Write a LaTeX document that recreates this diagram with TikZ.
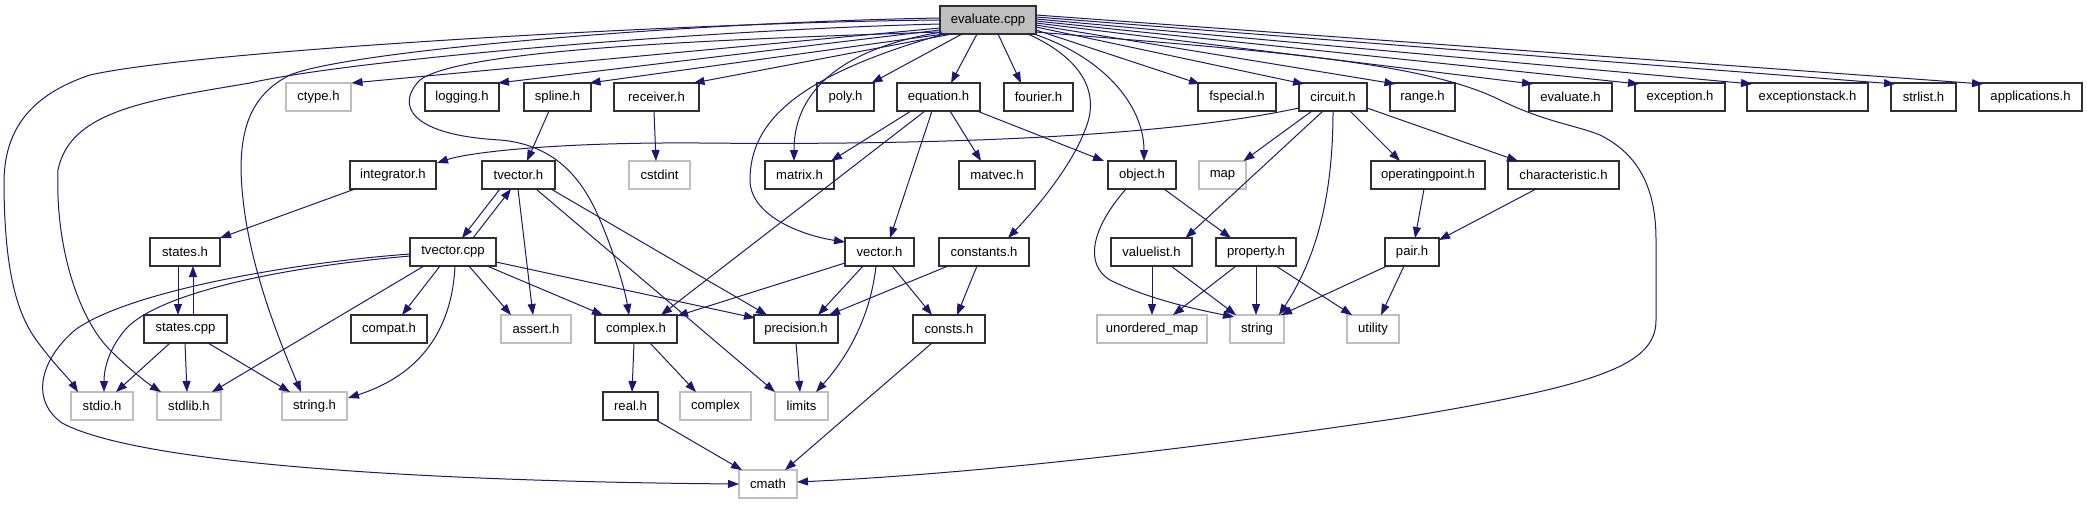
\documentclass[tikz,border=0pt]{standalone}
\usepackage{fontspec}
\setmainfont{Liberation Sans}
\usetikzlibrary{arrows.meta,calc}
\definecolor{dblue}{HTML}{191970}
\definecolor{lgray}{HTML}{BFBFBF}
\definecolor{bord}{HTML}{303030}
\tikzset{
  box/.style={draw=bord, line width=1.1pt, rectangle, minimum height=28pt, inner sep=0pt, font=\fontsize{13.1}{15}\selectfont, text=black},
  gbox/.style={box, draw=lgray},
  edge/.style={draw=dblue, line width=1pt, -{Triangle[length=11pt,width=8pt]}}
}
\begin{document}
\begin{tikzpicture}[x=1pt,y=-1pt]
\fill[white] (0,0) rectangle (2087,504);
\useasboundingbox (0,0) rectangle (2087,504);
% row 0
\node[box, fill=lgray, minimum width=96pt] (ev) at (988,20) {evaluate.cpp};
% row 1
\node[gbox, minimum width=65pt] (ct) at (318.5,97) {ctype.h};
\node[box, minimum width=74pt] (lg) at (462,97) {logging.h};
\node[box, minimum width=67pt] (sp) at (557.5,97) {spline.h};
\node[box, minimum width=85pt] (rc) at (656.5,97) {receiver.h};
\node[box, minimum width=57pt] (po) at (845.5,97) {poly.h};
\node[box, minimum width=83pt] (eq) at (938.5,97) {equation.h};
\node[box, minimum width=69pt] (fo) at (1038.5,97) {fourier.h};
\node[box, minimum width=78pt] (fs) at (1237,97) {fspecial.h};
\node[box, minimum width=68pt] (ci) at (1333,97) {circuit.h};
\node[box, minimum width=65pt] (ra) at (1422.5,97) {range.h};
\node[box, minimum width=83pt] (evh) at (1570.5,97) {evaluate.h};
\node[box, minimum width=90pt] (ex) at (1680,97) {exception.h};
\node[box, minimum width=121pt] (exs) at (1807.5,97) {exceptionstack.h};
\node[box, minimum width=65pt] (sl) at (1923.5,97) {strlist.h};
\node[box, minimum width=103pt] (ap) at (2030.5,97) {applications.h};
% row 2
\node[box, minimum width=86pt] (ig) at (393,175) {integrator.h};
\node[box, minimum width=73pt] (tvh) at (518.5,175) {tvector.h};
\node[gbox, minimum width=61pt] (csi) at (659.5,175) {cstdint};
\node[box, minimum width=69pt] (mx) at (799.5,175) {matrix.h};
\node[box, minimum width=76pt] (mv) at (997,175) {matvec.h};
\node[box, minimum width=68pt] (ob) at (1142,175) {object.h};
\node[gbox, minimum width=47pt] (mp) at (1222.5,175) {map};
\node[box, minimum width=114pt] (op) at (1428,175) {operatingpoint.h};
\node[box, minimum width=111pt] (ch) at (1563.5,175) {characteristic.h};
% row 3
\node[box, minimum width=70pt] (sh) at (185,252) {states.h};
\node[box, minimum width=86pt] (tvc) at (453,252) {tvector.cpp};
\node[box, minimum width=69pt] (ve) at (879.5,252) {vector.h};
\node[box, minimum width=90pt] (cn) at (984,252) {constants.h};
\node[box, minimum width=81pt] (vl) at (1151.5,252) {valuelist.h};
\node[box, minimum width=80pt] (pr) at (1256,252) {property.h};
\node[box, minimum width=54pt] (pa) at (1412,252) {pair.h};
% row 4
\node[box, minimum width=83pt] (sc) at (185.5,329) {states.cpp};
\node[box, minimum width=76pt] (cp) at (389,329) {compat.h};
\node[gbox, minimum width=70pt] (as) at (536,329) {assert.h};
\node[box, minimum width=82pt] (cx) at (636,329) {complex.h};
\node[box, minimum width=84pt] (pc) at (796,329) {precision.h};
\node[box, minimum width=72pt] (cs) at (949,329) {consts.h};
\node[gbox, minimum width=110pt] (um) at (1152,329) {unordered\_map};
\node[gbox, minimum width=54pt] (st) at (1257,329) {string};
\node[gbox, minimum width=52pt] (ut) at (1373,329) {utility};
% row 5
\node[gbox, minimum width=62pt] (sio) at (102,406) {stdio.h};
\node[gbox, minimum width=64pt] (slb) at (189,406) {stdlib.h};
\node[gbox, minimum width=65pt] (sth) at (314.5,406) {string.h};
\node[box, minimum width=55pt] (re) at (630.5,406) {real.h};
\node[gbox, minimum width=71pt] (cmp) at (715.5,406) {complex};
\node[gbox, minimum width=53pt] (li) at (801.5,406) {limits};
% row 6
\node[gbox, minimum width=58pt] (cm) at (768,484) {cmath};

% edges from evaluate.cpp
\draw[edge] ($(ev)+(-48,8)$) -- ($(ct)+(33,-14)$);
\draw[edge] ($(ev)+(-48,10)$) -- ($(lg)+(36,-14)$);
\draw[edge] ($(ev)+(-44,14)$) -- ($(sp)+(32,-14)$);
\draw[edge] ($(ev)+(-36,14)$) -- ($(rc)+(37,-14)$);
\draw[edge] ($(ev)+(-26,14)$) -- ($(po)+(26,-14)$);
\draw[edge] ($(ev)+(-11,14)$) -- ($(eq)+(12.5,-14)$);
\draw[edge] ($(ev)+(10,14)$) -- ($(fo)+(-17.5,-14)$);
\draw[edge] ($(ev)+(48,10)$) -- ($(fs)+(-37,-13)$);
\draw[edge] ($(ev)+(48,7)$) -- ($(ci)+(-29,-13)$);
\draw[edge] ($(ev)+(48,5)$) -- ($(ra)+(-27,-13)$);
\draw[edge] ($(ev)+(48,3)$) -- ($(evh)+(-37.5,-13)$);
\draw[edge] ($(ev)+(48,1)$) -- ($(ex)+(-41,-13)$);
\draw[edge] ($(ev)+(48,-1)$) -- ($(exs)+(-55.5,-13)$);
\draw[edge] ($(ev)+(48,-3)$) -- ($(sl)+(-28.5,-13)$);
\draw[edge] ($(ev)+(48,-5)$) -- ($(ap)+(-47.5,-13)$);
\draw[edge] ($(ev)+(-46,12)$) .. controls (860,45) and (794,80) .. ($(mx)+(-5.5,-14)$);
\draw[edge] ($(ev)+(-44,14)$) .. controls (800,75) and (750,120) .. (750,180) .. controls (750,215) and (800,235) .. ($(ve)+(-34.5,-10)$);
\draw[edge] ($(ev)+(40,14)$) .. controls (1085,60) and (1100,95) .. (1085,130) .. controls (1070,170) and (1030,215) .. ($(cn)+(24,-14)$);
\draw[edge] ($(ev)+(46,14)$) .. controls (1110,60) and (1144,110) .. ($(ob)+(2,-14)$);
\draw[edge] ($(ev)+(48,12)$) .. controls (1250,50) and (1420,60) .. (1500,100) .. controls (1545,122) and (1575,125) .. (1600,135) .. controls (1640,155) and (1656,190) .. (1656,240) -- (1656,320) .. controls (1656,365) and (1600,385) .. (1400,418) .. controls (1150,455) and (950,475) .. ($(cm)+(29,-2)$);
\draw[edge] ($(ev)+(-48,12)$) .. controls (700,40) and (460,50) .. (420,80) .. controls (395,105) and (410,135) .. (500,140) .. controls (560,145) and (585,185) .. (600,220) .. controls (615,255) and (625,290) .. ($(cx)+(-7,-14)$);
\draw[edge] ($(ev)+(-48,4)$) .. controls (700,30) and (350,60) .. (250,83) .. controls (150,100) and (70,110) .. (58,170) .. controls (55,250) and (80,320) .. (110,350) .. controls (130,370) and (150,385) .. ($(slb)+(-28,-14)$);
\draw[edge] ($(ev)+(-48,0)$) .. controls (700,22) and (200,50) .. (90,75) .. controls (30,95) and (5,130) .. (4,180) .. controls (4,280) and (20,320) .. (40,345) .. controls (55,365) and (70,380) .. ($(sio)+(-24,-14)$);
\draw[edge] ($(ev)+(-48,-2)$) .. controls (700,22) and (350,50) .. (290,75) .. controls (250,95) and (241,130) .. (241,170) .. controls (243,250) and (275,330) .. ($(sth)+(-13.5,-14)$);
% spline, receiver
\draw[edge] ($(sp)+(-8.5,14)$) -- ($(tvh)+(8.5,-14)$);
\draw[edge] ($(rc)+(-2.5,14)$) -- ($(csi)+(-3.5,-14)$);
% circuit
\draw[edge] ($(ci)+(-34,11)$) .. controls (1150,140) and (900,145) .. (700,143) .. controls (560,142) and (470,152) .. ($(ig)+(44,-12)$);
\draw[edge] ($(ci)+(-21,14)$) -- ($(mp)+(21,-14)$);
\draw[edge] ($(ci)+(-10,14)$) -- ($(vl)+(34,-14)$);
\draw[edge] ($(ci)+(0,14)$) .. controls (1333,200) and (1315,260) .. ($(st)+(22,-14)$);
\draw[edge] ($(ci)+(17,14)$) -- ($(op)+(-28,-14)$);
\draw[edge] ($(ci)+(34,11)$) -- ($(ch)+(-45.5,-14)$);
% equation
\draw[edge] ($(eq)+(-27.5,14)$) -- ($(mx)+(31.5,-14)$);
\draw[edge] ($(eq)+(-13.5,14)$) -- ($(cx)+(25,-14)$);
\draw[edge] ($(eq)+(-6.5,14)$) -- ($(ve)+(10.5,-14)$);
\draw[edge] ($(eq)+(11.5,14)$) -- ($(mv)+(-16,-14)$);
\draw[edge] ($(eq)+(38.5,14)$) -- ($(ob)+(-38,-14)$);
% object
\draw[edge] ($(ob)+(-16,14)$) .. controls (1090,230) and (1085,265) .. (1110,280) .. controls (1150,300) and (1200,310) .. ($(st)+(-23,-12)$);
\draw[edge] ($(ob)+(22,14)$) -- ($(pr)+(-25,-14)$);
% valuelist, property
\draw[edge] ($(vl)+(0.5,14)$) -- ($(um)+(0,-14)$);
\draw[edge] ($(vl)+(19.5,14)$) -- ($(st)+(-21,-14)$);
\draw[edge] ($(pr)+(-20,14)$) -- ($(um)+(21,-14)$);
\draw[edge] ($(pr)+(0,14)$) -- ($(st)+(-1,-14)$);
\draw[edge] ($(pr)+(20,14)$) -- ($(ut)+(-21,-14)$);
% operatingpoint, characteristic, pair
\draw[edge] ($(op)+(-4,14)$) -- ($(pa)+(3,-14)$);
\draw[edge] ($(ch)+(-27.5,14)$) -- ($(pa)+(27,-12)$);
\draw[edge] ($(pa)+(-25,14)$) -- ($(st)+(24,-14)$);
\draw[edge] ($(pa)+(-8,14)$) -- ($(ut)+(8,-14)$);
% integrator, states
\draw[edge] ($(ig)+(-38,14)$) -- ($(sh)+(35,-14)$);
\draw[edge] ($(sh)+(-7,14)$) -- ($(sc)+(-7.5,-14)$);
\draw[edge] ($(sc)+(7.5,-14)$) -- ($(sh)+(8,14)$);
% tvector.h
\draw[edge] ($(tvh)+(-18.5,14)$) -- ($(tvc)+(9,-14)$);
\draw[edge] ($(tvc)+(20,-14)$) -- ($(tvh)+(-7.5,14)$);
\draw[edge] ($(tvh)+(-0.5,14)$) -- ($(as)+(-3,-14)$);
\draw[edge] ($(tvh)+(17.5,14)$) -- ($(li)+(-26.5,-14)$);
\draw[edge] ($(tvh)+(32.5,14)$) -- ($(pc)+(-29,-14)$);
% tvector.cpp
\draw[edge] ($(tvc)+(-43,4)$) .. controls (250,270) and (150,300) .. (125,330) .. controls (108,350) and (104,370) .. ($(sio)+(2,-14)$);
\draw[edge] ($(tvc)+(-43,2)$) .. controls (300,262) and (130,290) .. (75,330) .. controls (40,360) and (30,400) .. (62,423) .. controls (150,470) and (500,482) .. ($(cm)+(-29,0)$);
\draw[edge] ($(tvc)+(-29,14)$) -- ($(slb)+(23,-14)$);
\draw[edge] ($(tvc)+(2,14)$) .. controls (452,330) and (420,375) .. ($(sth)+(33.5,-8)$);
\draw[edge] ($(tvc)+(-13,14)$) -- ($(cp)+(13,-14)$);
\draw[edge] ($(tvc)+(16,14)$) -- ($(as)+(-25,-14)$);
\draw[edge] ($(tvc)+(34,14)$) -- ($(cx)+(-33,-14)$);
\draw[edge] ($(tvc)+(43,10)$) -- ($(pc)+(-41,-11)$);
% states.cpp
\draw[edge] ($(sc)+(-15.5,14)$) -- ($(sio)+(14,-14)$);
\draw[edge] ($(sc)+(-0.5,14)$) -- ($(slb)+(-2,-14)$);
\draw[edge] ($(sc)+(22.5,14)$) -- ($(sth)+(-24.5,-14)$);
% vector, constants
\draw[edge] ($(ve)+(-16.5,14)$) -- ($(pc)+(22,-14)$);
\draw[edge] ($(ve)+(-34.5,11)$) -- ($(cx)+(41,-13)$);
\draw[edge] ($(ve)+(-3.5,14)$) .. controls (870,320) and (845,360) .. ($(li)+(14.5,-14)$);
\draw[edge] ($(ve)+(12.5,14)$) -- ($(cs)+(-17,-14)$);
\draw[edge] ($(cn)+(-7,14)$) -- ($(cs)+(8,-14)$);
\draw[edge] ($(cn)+(-36,14)$) -- ($(pc)+(33,-14)$);
% complex, real, precision, consts
\draw[edge] ($(cx)+(-2,14)$) -- ($(re)+(1.5,-14)$);
\draw[edge] ($(cx)+(14,14)$) -- ($(cmp)+(-19.5,-14)$);
\draw[edge] ($(re)+(25.5,14)$) -- ($(cm)+(-26,-14)$);
\draw[edge] ($(pc)+(0,14)$) -- ($(li)+(-1.5,-14)$);
\draw[edge] ($(cs)+(-17,14)$) -- ($(cm)+(17,-14)$);
\end{tikzpicture}
\end{document}
